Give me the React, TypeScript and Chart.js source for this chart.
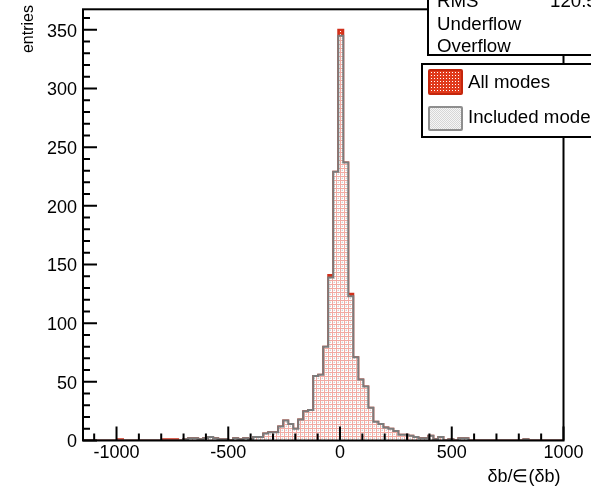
import React, { useEffect, useRef, useMemo } from 'react';
import { Chart, registerables } from 'chart.js';

Chart.register(...registerables);

// ---- data ----
const X_MIN = -1150;
const X_MAX = 1000;
const Y_MAX = 367.5;

// 96 bins from X_MIN to X_MAX
const allModes = [
  0, 0, 0, 0, 0, 0, 0, 1, 0, 0,
  0, 0, 0, 0, 0, 0, 1, 1, 1, 0,
  1, 2, 2, 1, 2, 3, 2, 1, 1, 0,
  2, 1, 2, 1, 3, 3, 6, 7, 7, 12,
  17, 14, 10, 18, 25, 26, 55, 56, 80, 141,
  229, 350, 237, 125, 71, 52, 46, 28, 16, 14,
  11, 10, 8, 5, 5, 4, 3, 2, 2, 4,
  1, 3, 0, 1, 0, 2, 2, 0, 0, 0,
  0, 0, 0, 0, 0, 0, 0, 0, 1, 0,
  0, 0, 0, 0, 0, 0,
];

const includedModes = [
  0, 0, 0, 0, 0, 0, 0, 0, 0, 0,
  0, 0, 0, 0, 0, 0, 0, 0, 0, 0,
  1, 2, 2, 1, 2, 3, 2, 1, 1, 0,
  2, 1, 2, 1, 3, 3, 6, 7, 7, 12,
  17, 14, 10, 18, 25, 26, 55, 56, 80, 139,
  229, 345, 237, 123, 71, 52, 46, 28, 16, 14,
  11, 10, 8, 5, 5, 4, 3, 2, 2, 4,
  1, 3, 0, 1, 0, 2, 2, 0, 0, 0,
  0, 0, 0, 0, 0, 0, 0, 0, 1, 0,
  0, 0, 0, 0, 0, 0,
];

const xTickLabels = [-1000, -500, 0, 500, 1000];
const yTickLabels = [0, 50, 100, 150, 200, 250, 300, 350];
const X_MINOR_STEP = 100;
const X_MAJOR_STEP = 500;
const Y_MINOR_STEP = 10;
const Y_MAJOR_STEP = 50;

const xTitle = 'δb/∈(δb)';
const yTitle = 'entries';
const statsLabels = ['RMS', 'Underflow', 'Overflow'];
const statsValues = ['120.5', '', ''];
const legendLabels = ['All modes', 'Included modes'];

const FONT = "'Liberation Sans', Arial, Helvetica, sans-serif";

function toSteps(values: number[]) {
  const w = (X_MAX - X_MIN) / values.length;
  const pts: { x: number; y: number }[] = [{ x: X_MIN, y: 0 }];
  values.forEach((v, i) => pts.push({ x: X_MIN + i * w, y: v }));
  pts.push({ x: X_MAX, y: 0 });
  return pts;
}

function makeTile(size: number, draw: (g: CanvasRenderingContext2D) => void) {
  const c = document.createElement('canvas');
  c.width = size;
  c.height = size;
  const g = c.getContext('2d')!;
  draw(g);
  return c;
}

const redTile = () =>
  makeTile(3, (g) => {
    g.fillStyle = '#e03a1c';
    g.fillRect(0, 0, 3, 3);
    g.fillStyle = '#ffffff';
    g.fillRect(1, 1, 1, 1);
  });

const greyLegendTile = () =>
  makeTile(2, (g) => {
    g.fillStyle = '#f6f6f6';
    g.fillRect(0, 0, 2, 2);
    g.fillStyle = '#d6d6d6';
    g.fillRect(0, 0, 1, 1);
    g.fillRect(1, 1, 1, 1);
  });

const histTile = () =>
  makeTile(4, (g) => {
    g.fillStyle = '#ffffff';
    g.fillRect(0, 0, 4, 4);
    g.fillStyle = '#f1aaa2';
    g.fillRect(0, 0, 4, 1);
    g.fillRect(0, 0, 1, 4);
    g.fillStyle = '#d2d2d2';
    g.fillRect(2, 2, 1, 1);
    g.fillStyle = '#ececec';
    g.fillRect(2, 1, 1, 1);
    g.fillRect(1, 2, 1, 1);
  });

const framePlugin = {
  id: 'rootFrame',
  afterDatasetsDraw(chart: any) {
    const { ctx, chartArea: a, scales } = chart;
    const x = scales.x;
    const y = scales.y;
    ctx.save();
    ctx.strokeStyle = '#000';
    ctx.lineWidth = 2;
    ctx.beginPath();
    for (let v = Math.ceil(X_MIN / X_MINOR_STEP) * X_MINOR_STEP; v <= X_MAX; v += X_MINOR_STEP) {
      const px = x.getPixelForValue(v);
      const len = v % X_MAJOR_STEP === 0 ? 14 : 7;
      ctx.moveTo(px, a.bottom);
      ctx.lineTo(px, a.bottom - len);
    }
    for (let v = 0; v <= Y_MAX; v += Y_MINOR_STEP) {
      const py = y.getPixelForValue(v);
      const len = v % Y_MAJOR_STEP === 0 ? 14 : 7;
      ctx.moveTo(a.left, py);
      ctx.lineTo(a.left + len, py);
    }
    ctx.stroke();
    ctx.strokeRect(a.left, a.top, a.right - a.left, a.bottom - a.top);

    ctx.fillStyle = '#000';
    ctx.font = `18px ${FONT}`;
    ctx.textAlign = 'right';
    ctx.textBaseline = 'alphabetic';
    ctx.fillText(xTitle, a.right - 3, 482);

    ctx.translate(33, 5);
    ctx.rotate(-Math.PI / 2);
    ctx.font = `16px ${FONT}`;
    ctx.textAlign = 'right';
    ctx.fillText(yTitle, 0, 0);
    ctx.restore();
  },
};

export default function App() {
  const canvasRef = useRef<HTMLCanvasElement | null>(null);

  const legendBg = useMemo(() => {
    return {
      red: redTile().toDataURL(),
      grey: greyLegendTile().toDataURL(),
    };
  }, []);

  useEffect(() => {
    const canvas = canvasRef.current!;
    const ctx = canvas.getContext('2d')!;
    const allPattern = ctx.createPattern(redTile(), 'repeat');
    const inclPattern = ctx.createPattern(histTile(), 'repeat');

    Chart.defaults.font.family = FONT;

    const chart = new Chart(ctx, {
      type: 'line',
      data: {
        datasets: [
          {
            label: legendLabels[1],
            data: toSteps(includedModes),
            stepped: 'before',
            borderColor: '#7b7b7b',
            borderWidth: 2,
            backgroundColor: inclPattern as any,
            fill: 'origin',
            pointRadius: 0,
            order: 0,
          },
          {
            label: legendLabels[0],
            data: toSteps(allModes),
            stepped: 'before',
            borderColor: '#d0301c',
            borderWidth: 2,
            backgroundColor: allPattern as any,
            fill: 'origin',
            pointRadius: 0,
            order: 1,
          },
        ],
      },
      options: {
        animation: false,
        responsive: false,
        maintainAspectRatio: false,
        devicePixelRatio: 1,
        layout: { padding: { top: 9.3, right: 27.5, left: 0, bottom: 0 } },
        plugins: { legend: { display: false }, tooltip: { enabled: false } },
        elements: { point: { radius: 0 }, line: { tension: 0 } },
        scales: {
          x: {
            type: 'linear',
            min: X_MIN,
            max: X_MAX,
            grid: { display: false, drawTicks: false, tickLength: 0 },
            border: { display: false },
            afterBuildTicks: (s: any) => {
              s.ticks = xTickLabels.map((v) => ({ value: v }));
            },
            afterFit: (s: any) => {
              s.height = 46.5;
              s.paddingLeft = 0;
              s.paddingRight = 0;
              s.paddingTop = 0;
              s.paddingBottom = 0;
            },
            ticks: {
              font: { size: 18, family: FONT },
              color: '#000',
              padding: 2,
              maxRotation: 0,
              autoSkip: false,
              callback: (v: any) => String(v),
            },
          },
          y: {
            type: 'linear',
            min: 0,
            max: Y_MAX,
            grid: { display: false, drawTicks: false, tickLength: 0 },
            border: { display: false },
            afterBuildTicks: (s: any) => {
              s.ticks = yTickLabels.map((v) => ({ value: v }));
            },
            afterFit: (s: any) => {
              s.width = 83;
              s.paddingLeft = 0;
              s.paddingRight = 0;
              s.paddingTop = 0;
              s.paddingBottom = 0;
            },
            ticks: {
              font: { size: 18, family: FONT },
              color: '#000',
              padding: 6,
              labelOffset: 2,
              autoSkip: false,
              callback: (v: any) => String(v),
            },
          },
        },
      },
      plugins: [framePlugin],
    } as any);

    return () => chart.destroy();
  }, []);

  const text: React.CSSProperties = {
    position: 'absolute',
    fontFamily: FONT,
    fontSize: 18.7,
    lineHeight: '18px',
    whiteSpace: 'nowrap',
    color: '#000',
  };

  return (
    <div
      style={{
        position: 'fixed',
        left: 0,
        top: 0,
        width: 591,
        height: 487,
        overflow: 'hidden',
        background: '#fff',
      }}
    >
      <canvas ref={canvasRef} width={591} height={487} style={{ width: 591, height: 487, display: 'block' }} />

      {/* statistics box */}
      <div
        style={{
          position: 'absolute',
          left: 427,
          top: -45,
          width: 220,
          height: 101,
          boxSizing: 'border-box',
          border: '2px solid #000',
          background: '#fff',
        }}
      />
      <span style={{ ...text, left: 437, top: 7 - 15.5 }}>{statsLabels[0]}</span>
      <span style={{ ...text, left: 550, top: 7 - 15.5 }}>{statsValues[0]}</span>
      <span style={{ ...text, left: 437, top: 30.5 - 15.5 }}>{statsLabels[1]}</span>
      <span style={{ ...text, left: 437, top: 52.3 - 15.5 }}>{statsLabels[2]}</span>

      {/* legend */}
      <div
        style={{
          position: 'absolute',
          left: 421,
          top: 63,
          width: 230,
          height: 75,
          boxSizing: 'border-box',
          border: '2px solid #000',
          background: '#fff',
        }}
      />
      <div
        style={{
          position: 'absolute',
          left: 428,
          top: 69,
          width: 35,
          height: 26,
          boxSizing: 'border-box',
          border: '2px solid #c4260c',
          borderRadius: 2,
          backgroundImage: `url(${legendBg.red})`,
          backgroundRepeat: 'repeat',
        }}
      />
      <div
        style={{
          position: 'absolute',
          left: 428,
          top: 106,
          width: 35,
          height: 25,
          boxSizing: 'border-box',
          border: '2px solid #8e8e8e',
          borderRadius: 2,
          backgroundImage: `url(${legendBg.grey})`,
          backgroundRepeat: 'repeat',
        }}
      />
      <span style={{ ...text, left: 468, top: 88.3 - 15.5 }}>{legendLabels[0]}</span>
      <span style={{ ...text, left: 468, top: 123.3 - 15.5 }}>{legendLabels[1]}</span>
    </div>
  );
}
